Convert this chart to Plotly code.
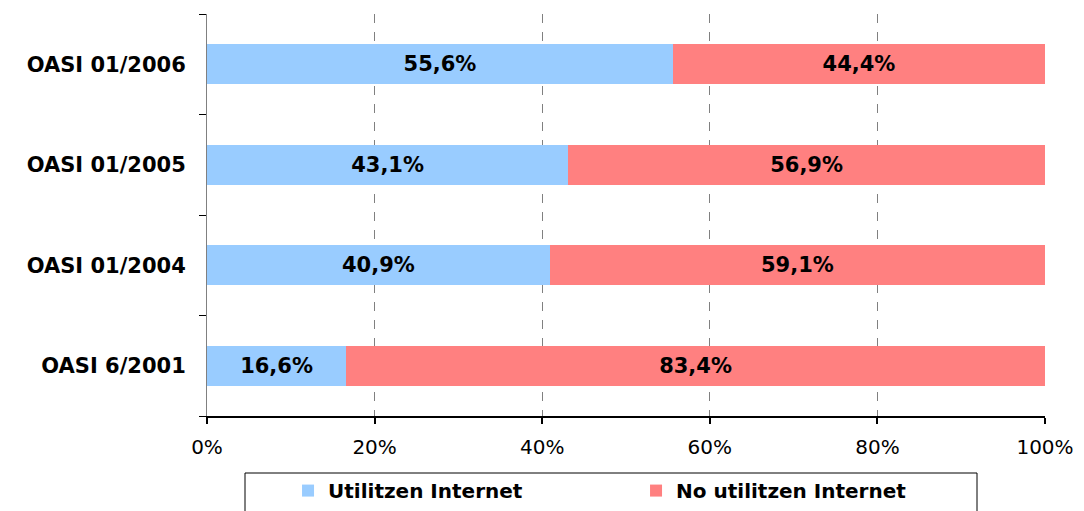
import plotly.graph_objects as go

categories = ["OASI 6/2001", "OASI 01/2004", "OASI 01/2005", "OASI 01/2006"]
utilitzen = [16.6, 40.9, 43.1, 55.6]
no_utilitzen = [83.4, 59.1, 56.9, 44.4]
series_names = ["Utilitzen Internet", "No utilitzen Internet"]
colors = ["#99CCFF", "#FF8080"]
x_ticks = [0, 20, 40, 60, 80, 100]
x_ticktext = ["0%", "20%", "40%", "60%", "80%", "100%"]

FONT = "DejaVu Sans"

fig = go.Figure()
for name, vals, col in zip(series_names, [utilitzen, no_utilitzen], colors):
    fig.add_trace(go.Bar(
        y=categories, x=vals, name=name, orientation="h",
        marker=dict(color=col, line=dict(width=0)),
        texttemplate="<b>%{x:.1f}%</b>", textposition="inside",
        insidetextanchor="middle",
        textfont=dict(family=FONT, size=21, color="black"),
        hoverinfo="skip",
    ))

# page body has an 8px offset; plot area target: x 207-1045, y 14-416 (window)
fig.update_layout(
    barmode="stack",
    bargap=0.6,
    separators=",.",
    width=1084, height=511,
    margin=dict(l=199, r=47, t=6, b=103),
    plot_bgcolor="white", paper_bgcolor="white",
    font=dict(family=FONT, color="black"),
    uniformtext=dict(mode="show", minsize=21),
    legend=dict(
        orientation="h", x=0.0967, xanchor="left", y=-0.137, yanchor="top",
        borderwidth=0, bgcolor="rgba(0,0,0,0)",
        font=dict(family=FONT, size=20, color="black"),
        entrywidth=303, entrywidthmode="pixels",
        traceorder="normal",
    ),
    showlegend=True,
    shapes=[dict(
        type="rect", xref="paper", yref="paper",
        x0=(245 - 207) / 838, x1=(977 - 207) / 838,
        y0=-0.27, y1=(416 - 473) / 402,
        line=dict(color="black", width=1), fillcolor="rgba(0,0,0,0)",
        layer="below",
    )],
)
for tr in fig.data:
    tr.legendgrouptitle = None
fig.update_traces(name=None)
fig.data[0].name = "<b>" + series_names[0] + "</b>"
fig.data[1].name = "<b>" + series_names[1] + "</b>"

fig.update_xaxes(
    range=[0, 100], tickvals=x_ticks, ticktext=x_ticktext,
    showgrid=True, gridcolor="#808080", griddash="dash", gridwidth=1,
    showline=True, linecolor="black", linewidth=2,
    ticks="outside", ticklen=6, tickwidth=2, tickcolor="black",
    ticklabelstandoff=6,
    tickfont=dict(family=FONT, size=20, color="black"),
    zeroline=False,
)
fig.update_yaxes(
    showline=True, linecolor="#808080", linewidth=1,
    ticks="outside", ticklen=7, tickcolor="black", tickwidth=1,
    tickson="boundaries",
    ticklabelstandoff=16,
    tickfont=dict(family=FONT, size=21, color="black"),
    tickprefix="<b>", ticksuffix="</b>",
    showgrid=False,
)

fig.write_html("out.html")
